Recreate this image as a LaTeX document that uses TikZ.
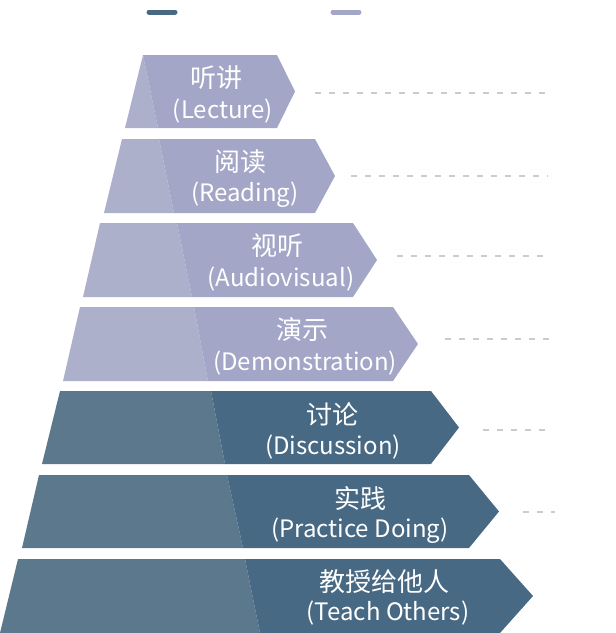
\documentclass[tikz,border=0pt]{standalone}
\usepackage{fontspec}
\setmainfont{Noto Sans CJK SC}
\usetikzlibrary{positioning}
\definecolor{LayerLight}{HTML}{A3A6C6}
\definecolor{LayerLightSide}{HTML}{ADB0CB}
\definecolor{LayerDark}{HTML}{476983}
\definecolor{LayerDarkSide}{HTML}{5B788D}
\definecolor{GuideGray}{HTML}{CCCCCC}

\begin{document}
\begin{tikzpicture}[x=1pt, y=-1pt,
  cn/.style={text=white, font=\fontsize{26}{26}\selectfont, inner sep=0pt},
  en/.style={text=white, font=\fontsize{24}{24}\selectfont, inner sep=0pt},
  guide/.style={GuideGray, line width=1.3pt, dash pattern=on 6pt off 8pt},
  legend/.style={line width=5pt, line cap=round}]
  \useasboundingbox (0, 0) rectangle (616, 633);
  % legend
  \draw[legend, LayerDark] (149, 12) -- (175, 12);
  \draw[legend, LayerLight] (333, 12) -- (359, 12);
  % lecture
  \fill[LayerLightSide] (143, 55) -- (158, 128) -- (125, 128) -- cycle;
  \fill[LayerLight] (143, 55) -- (277, 55) -- (295, 91.5) -- (277, 128) -- (158, 128) -- cycle;
  \node[cn] (n1) at (216, 78) {听讲};
  \node[en] (e1) at (223, 111) {(Lecture)};
  % reading
  \fill[LayerLightSide] (122, 139) -- (159, 139) -- (174, 213) -- (104, 213) -- cycle;
  \fill[LayerLight] (159, 139) -- (315, 139) -- (335, 176) -- (315, 213) -- (174, 213) -- cycle;
  \node[cn] (n2) at (240, 162) {阅读};
  \node[en] (e2) at (245, 195) {(Reading)};
  % audiovisual
  \fill[LayerLightSide] (100, 223) -- (177, 223) -- (192, 297) -- (83, 297) -- cycle;
  \fill[LayerLight] (177, 223) -- (353, 223) -- (377, 260) -- (353, 297) -- (192, 297) -- cycle;
  \node[cn] (n3) at (277, 246) {视听};
  \node[en] (e3) at (281, 279) {(Audiovisual)};
  % demonstration
  \fill[LayerLightSide] (80, 307) -- (194, 307) -- (208, 381) -- (63, 381) -- cycle;
  \fill[LayerLight] (194, 307) -- (393, 307) -- (418, 344) -- (393, 381) -- (208, 381) -- cycle;
  \node[cn] (n4) at (302, 330) {演示};
  \node[en] (e4) at (305, 363) {(Demonstration)};
  % discussion
  \fill[LayerDarkSide] (60, 391) -- (211, 391) -- (225, 464) -- (42, 464) -- cycle;
  \fill[LayerDark] (211, 391) -- (431, 391) -- (459, 427.5) -- (431, 464) -- (225, 464) -- cycle;
  \node[cn] (n5) at (332, 414) {讨论};
  \node[en] (e5) at (333, 447) {(Discussion)};
  % practice doing
  \fill[LayerDarkSide] (39, 475) -- (227, 475) -- (243, 548) -- (22, 548) -- cycle;
  \fill[LayerDark] (227, 475) -- (469, 475) -- (499, 511.5) -- (469, 548) -- (243, 548) -- cycle;
  \node[cn] (n6) at (360, 498) {实践};
  \node[en] (e6) at (360, 531) {(Practice Doing)};
  % teach others
  \fill[LayerDarkSide] (18, 559) -- (245, 559) -- (260, 633) -- (0, 633) -- cycle;
  \fill[LayerDark] (245, 559) -- (500, 559) -- (533, 596) -- (500, 633) -- (260, 633) -- cycle;
  \node[cn] (n7) at (384, 582) {教授给他人};
  \node[en] (e7) at (388, 613) {(Teach Others)};
  % guides
  \coordinate (g1a) at (315, 93);
  \coordinate (g1b) at (548, 93);
  \draw[guide] (g1a) -- (g1b);
  \coordinate (g2a) at (351, 176);
  \coordinate (g2b) at (548, 176);
  \draw[guide] (g2a) -- (g2b);
  \coordinate (g3a) at (397, 256);
  \coordinate (g3b) at (548, 256);
  \draw[guide] (g3a) -- (g3b);
  \coordinate (g4a) at (445, 339);
  \coordinate (g4b) at (553, 339);
  \draw[guide] (g4a) -- (g4b);
  \coordinate (g5a) at (483, 430);
  \coordinate (g5b) at (553, 430);
  \draw[guide] (g5a) -- (g5b);
  \coordinate (g6a) at (523, 512);
  \coordinate (g6b) at (555, 512);
  \draw[guide] (g6a) -- (g6b);
\end{tikzpicture}
\end{document}
